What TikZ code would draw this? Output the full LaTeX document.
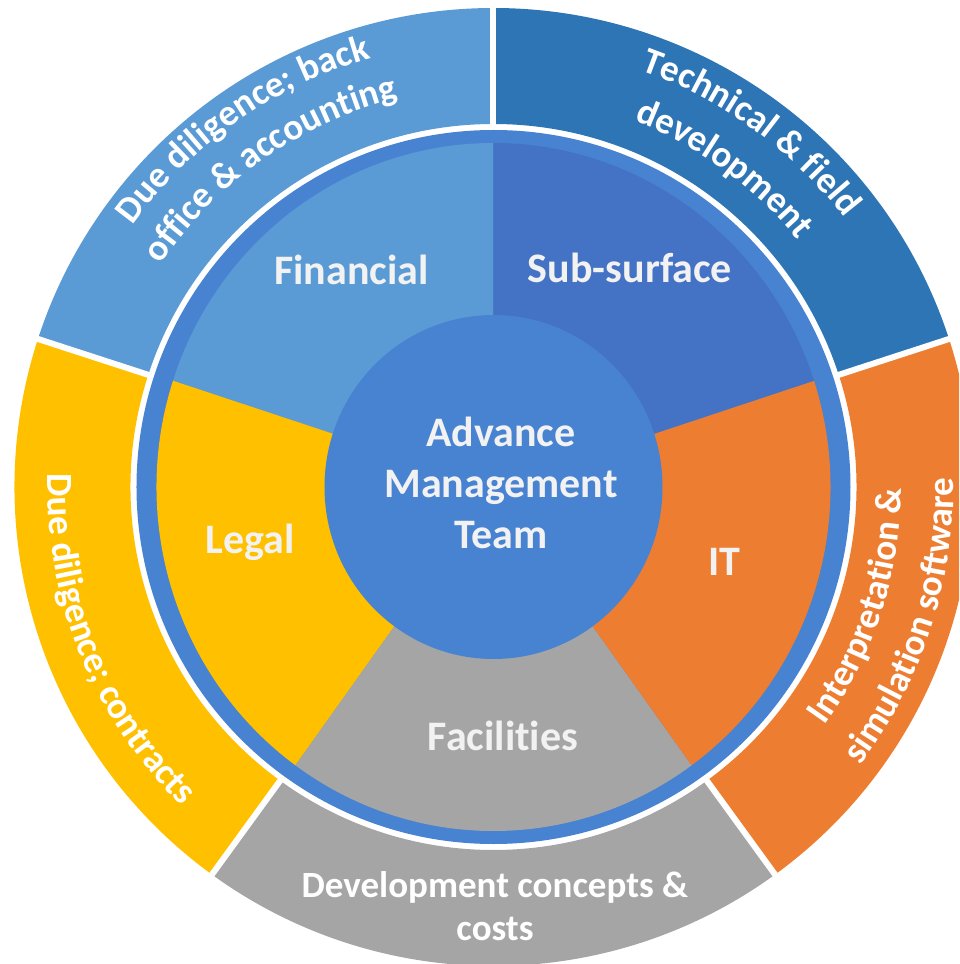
\documentclass[tikz,border=0pt]{standalone}
\usepackage{fontspec}
\setmainfont{Carlito}[Ligatures=NoCommon]
\usetikzlibrary{decorations.text}
\definecolor{finblue}{HTML}{5B9BD5}
\definecolor{subblue}{HTML}{4472C4}
\definecolor{techblue}{HTML}{2E75B6}
\definecolor{itorange}{HTML}{ED7D31}
\definecolor{facgray}{HTML}{A5A5A5}
\definecolor{legyellow}{HTML}{FFC000}
\definecolor{hubblue}{HTML}{4883D1}
\definecolor{lbltext}{HTML}{F2F2F2}
\newcommand{\ringfont}{\fontsize{37}{43}\selectfont\bfseries\color{white}}

\begin{document}
\begin{tikzpicture}[x=1pt, y=1pt,
		pielabel/.style={text=lbltext, font=\fontsize{42}{51}\selectfont\bfseries, inner sep=0pt},
		ringlabel/.style={text=white, font=\fontsize{37}{43}\selectfont\bfseries, inner sep=0pt, align=center},
		gap/.style={white, line width=6pt}]
		\useasboundingbox (-493.5,-477) rectangle (465.5,487);
		\clip (-493.5,-477) rectangle (465.5,487);
		\fill[finblue] (90:363) -- (90:479) arc[start angle=90, end angle=162, radius=479] -- (162:363) arc[start angle=162, end angle=90, radius=363] -- cycle;
		\fill[legyellow] (162:363) -- (162:479) arc[start angle=162, end angle=234, radius=479] -- (234:363) arc[start angle=234, end angle=162, radius=363] -- cycle;
		\fill[facgray] (234:363) -- (234:479) arc[start angle=234, end angle=306, radius=479] -- (306:363) arc[start angle=306, end angle=234, radius=363] -- cycle;
		\fill[itorange] (306:363) -- (306:479) arc[start angle=306, end angle=378, radius=479] -- (18:363) arc[start angle=378, end angle=306, radius=363] -- cycle;
		\fill[techblue] (18:363) -- (18:479) arc[start angle=18, end angle=90, radius=479] -- (90:363) arc[start angle=90, end angle=18, radius=363] -- cycle;
		\draw[gap] (90:360) -- (90:484);
		\draw[gap] (162:360) -- (162:484);
		\draw[gap] (234:360) -- (234:484);
		\draw[gap] (306:360) -- (306:484);
		\draw[gap] (18:360) -- (18:484);
		\fill[hubblue] (0,0) circle[radius=357];
		\fill[finblue] (0,0) -- (90:337 and 344) arc[start angle=90, end angle=162, x radius=337, y radius=344] -- cycle;
		\fill[legyellow] (0,0) -- (162:337 and 344) arc[start angle=162, end angle=234, x radius=337, y radius=344] -- cycle;
		\fill[facgray] (0,0) -- (234:337 and 344) arc[start angle=234, end angle=306, x radius=337, y radius=344] -- cycle;
		\fill[itorange] (0,0) -- (306:337 and 344) arc[start angle=306, end angle=378, x radius=337, y radius=344] -- cycle;
		\fill[subblue] (0,0) -- (18:337 and 344) arc[start angle=18, end angle=90, x radius=337, y radius=344] -- cycle;
		\fill[hubblue] (0,0) ellipse[x radius=169, y radius=172];
		\node (hub)[pielabel, align=center] at(7.5,3.7) {Advance\\Management\\Team};
		\node (fin)[pielabel, anchor=base] at(-142,202) {Financial};
		\node (sub)[pielabel, anchor=base] at(136.5,204) {Sub-surface};
		\node (leg)[pielabel, anchor=base] at(-243.5,-66) {Legal};
		\node (it)[pielabel, anchor=base] at(231,-88) {IT};
		\node (fac)[pielabel, anchor=base] at(9.5,-263) {Facilities};
		\node (dev)[ringlabel] at(1.5,-419.5) {Development concepts \&\\costs};
		\path[decorate, decoration={text along path, text align=center, text={|\ringfont|Due diligence; back}}] (165:446) arc[start angle=165, end angle=85, radius=446];
		\path[decorate, decoration={text along path, text align=center, text={|\ringfont|office {\&} accounting}}] (165:400) arc[start angle=165, end angle=85, radius=400];
		\path[decorate, decoration={text along path, text align=center, text={|\ringfont|Technical {\&} field}}] (94:442) arc[start angle=94, end angle=14, radius=442];
		\path[decorate, decoration={text along path, text align=center, text={|\ringfont|development}}] (94:392) arc[start angle=94, end angle=14, radius=392];
		\path[decorate, decoration={text along path, text align=center, text={|\ringfont|Interpretation {\&}}}] (-58:408) arc[start angle=-58, end angle=22, radius=408];
		\path[decorate, decoration={text along path, text align=center, text={|\ringfont|simulation software}}] (-58:460) arc[start angle=-58, end angle=22, radius=460];
		\path[decorate, decoration={text along path, text align=center, text={|\ringfont|Due diligence; contracts}}] (161:446) arc[start angle=161, end angle=243, radius=446];
	\end{tikzpicture}
\end{document}
